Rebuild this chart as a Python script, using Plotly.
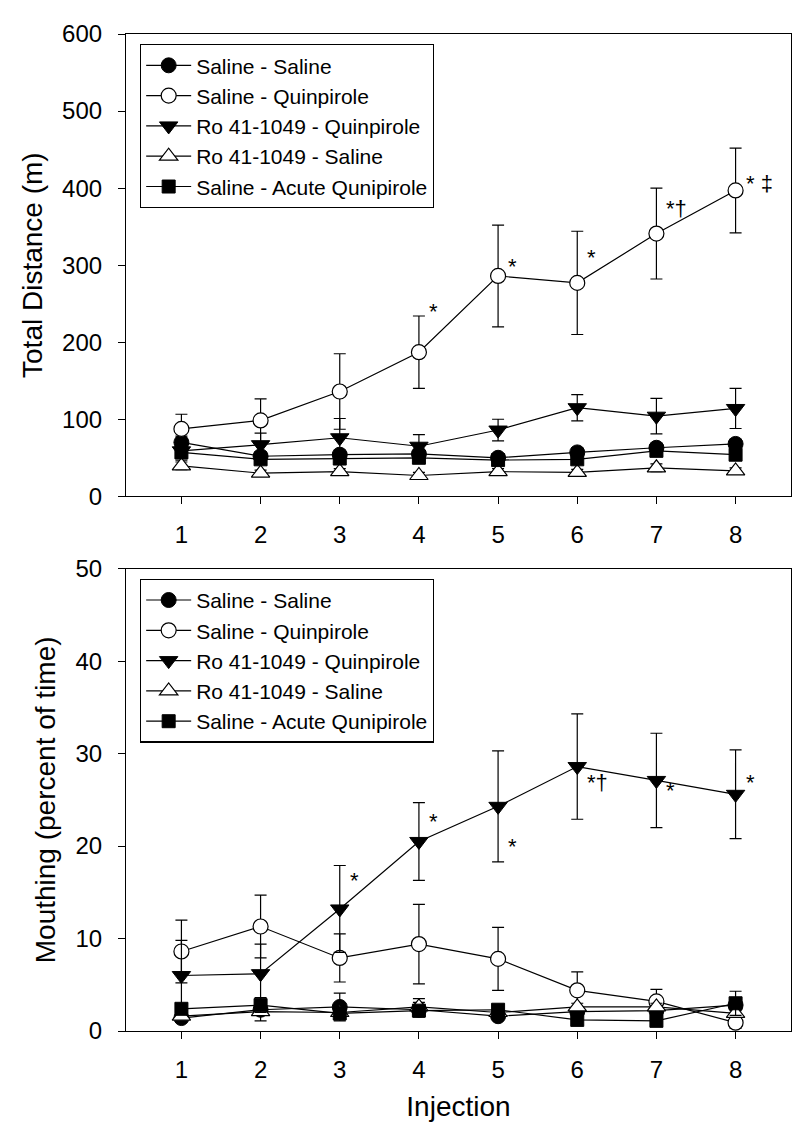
import plotly.graph_objects as go

injection = [1, 2, 3, 4, 5, 6, 7, 8]
x_ticks = ["1", "2", "3", "4", "5", "6", "7", "8"]

names = ["Saline - Saline", "Saline - Quinpirole", "Ro 41-1049 - Quinpirole",
         "Ro 41-1049 - Saline", "Saline - Acute Qunipirole"]

# Total distance (m)
dist_ss = [70, 52, 54, 55, 50, 57, 63, 68]
dist_ss_err = [8, 6, 6, 6, 5, 6, 6, 6]
dist_sq = [87.5, 98.5, 136, 187, 286, 277, 341, 397]
dist_sq_err = [19, 28, 49, 47, 66, 67, 59, 55]
dist_rq = [59, 67, 76, 65, 86, 115, 104, 114]
dist_rq_err = [12, 15, 25, 15, 14, 17, 23, 26]
dist_rs = [39.5, 30, 32, 27, 32, 31, 37, 33]
dist_rs_err = [5, 4, 4, 4, 4, 4, 5, 4]
dist_aq = [57, 48, 49, 50, 47, 48, 59, 54]
dist_aq_err = [6, 5, 5, 5, 5, 5, 6, 6]

# Mouthing (percent of time)
mouth_ss = [1.4, 2.3, 2.6, 2.3, 1.6, 2.1, 2.2, 2.8]
mouth_ss_err = [0.4, 0.6, 1.5, 0.8, 0.4, 0.5, 0.5, 0.6]
mouth_sq = [8.6, 11.3, 7.9, 9.4, 7.8, 4.4, 3.2, 0.9]
mouth_sq_err = [3.4, 3.4, 2.6, 4.3, 3.4, 2.0, 1.3, 0.6]
mouth_rq = [6.0, 6.2, 13.2, 20.5, 24.3, 28.6, 27.1, 25.6]
mouth_rq_err = [3.8, 3.2, 4.7, 4.2, 6.0, 5.7, 5.1, 4.8]
mouth_rs = [1.6, 2.1, 2.0, 2.6, 2.0, 2.6, 2.6, 1.9]
mouth_rs_err = [0.4, 1.0, 0.5, 0.9, 0.4, 0.4, 0.4, 0.4]
mouth_aq = [2.4, 2.8, 1.9, 2.2, 2.3, 1.2, 1.1, 3.0]
mouth_aq_err = [0.5, 0.8, 0.7, 0.4, 0.4, 0.5, 0.6, 1.3]

# significance marks
dist_sig_x = [4, 5, 6, 7, 8]
dist_sig_y = [246, 305, 317, 380, 413]
dist_sig_text = ["*", "*", "*", "*†", "* ‡"]
mouth_sig_x = [3, 4, 5, 6, 7, 8]
mouth_sig_y = [16.8, 23.2, 20.5, 27.4, 26.6, 27.4]
mouth_sig_text = ["*", "*", "*", "*†", "*", "*"]

FONT = "Arial, Liberation Sans, sans-serif"
styles = [
    dict(symbol="circle", size=15, color="black", line=dict(color="black", width=1)),
    dict(symbol="circle", size=15, color="white", line=dict(color="black", width=1.2)),
    dict(symbol="triangle-down", size=16, color="black", line=dict(color="black", width=1)),
    dict(symbol="triangle-up", size=16, color="white", line=dict(color="black", width=1.2)),
    dict(symbol="square", size=13, color="black", line=dict(color="black", width=1)),
]

fig = go.Figure()

dist_series = [(dist_ss, dist_ss_err), (dist_sq, dist_sq_err), (dist_rq, dist_rq_err),
               (dist_rs, dist_rs_err), (dist_aq, dist_aq_err)]
mouth_series = [(mouth_ss, mouth_ss_err), (mouth_sq, mouth_sq_err), (mouth_rq, mouth_rq_err),
                (mouth_rs, mouth_rs_err), (mouth_aq, mouth_aq_err)]

for i, (vals, errs) in enumerate(dist_series):
    fig.add_trace(go.Scatter(
        x=injection, y=vals, name=names[i], mode="lines+markers",
        line=dict(color="black", width=1.2), marker=styles[i],
        error_y=dict(type="data", array=errs, visible=True, color="black", thickness=1.2, width=6),
        xaxis="x", yaxis="y", legend="legend"))

for i, (vals, errs) in enumerate(mouth_series):
    fig.add_trace(go.Scatter(
        x=injection, y=vals, name=names[i], mode="lines+markers",
        line=dict(color="black", width=1.2), marker=styles[i],
        error_y=dict(type="data", array=errs, visible=True, color="black", thickness=1.2, width=6),
        xaxis="x2", yaxis="y2", legend="legend2"))

annotations = []
for xv, yv, t in zip(dist_sig_x, dist_sig_y, dist_sig_text):
    annotations.append(dict(x=xv + 0.1, y=yv, xref="x", yref="y", text=t, showarrow=False,
                            xanchor="left", yanchor="middle", yshift=-5,
                            font=dict(family=FONT, size=22, color="black")))
for xv, yv, t in zip(mouth_sig_x, mouth_sig_y, mouth_sig_text):
    annotations.append(dict(x=xv + 0.1, y=yv, xref="x2", yref="y2", text=t, showarrow=False,
                            xanchor="left", yanchor="middle", yshift=-5,
                            font=dict(family=FONT, size=22, color="black")))

axis_common = dict(showline=True, linecolor="black", linewidth=1.2, mirror=True,
                   ticks="outside", ticklen=7, tickwidth=1.2, tickcolor="black",
                   showgrid=False, zeroline=False,
                   tickfont=dict(family=FONT, size=24, color="black"))

legend_common = dict(bgcolor="white", bordercolor="black", borderwidth=1.2,
                     font=dict(family=FONT, size=21, color="black"),
                     xanchor="left", yanchor="top", tracegroupgap=0, itemsizing="trace",
                     itemwidth=45, entrywidth=290, entrywidthmode="pixels")

TITLE_FONT = dict(family=FONT, size=28, color="black")

fig.update_layout(
    width=800, height=1129,
    margin=dict(l=118, r=17, t=18, b=106),
    paper_bgcolor="white", plot_bgcolor="white",
    font=dict(family=FONT, color="black"),
    showlegend=True,
    xaxis=dict(domain=[0, 1], anchor="y", range=[0.3, 8.7], tickvals=injection, ticktext=x_ticks,
               ticklabelstandoff=10, **axis_common),
    yaxis=dict(domain=[0.5363, 1], anchor="x", range=[0, 600], tickvals=[0, 100, 200, 300, 400, 500, 600],
               ticklabelstandoff=11,
               title=dict(text="Total Distance (m)", font=TITLE_FONT, standoff=11),
               **axis_common),
    xaxis2=dict(domain=[0, 1], anchor="y2", range=[0.3, 8.7], tickvals=injection, ticktext=x_ticks,
                ticklabelstandoff=10,
                title=dict(text="Injection", font=TITLE_FONT, standoff=14),
                **axis_common),
    yaxis2=dict(domain=[0, 0.4637], anchor="x2", range=[0, 50], tickvals=[0, 10, 20, 30, 40, 50],
                ticklabelstandoff=11,
                title=dict(text="Mouthing (percent of time)", font=TITLE_FONT, standoff=11),
                **axis_common),
    legend=dict(x=0.021, y=0.990, **legend_common),
    legend2=dict(x=0.021, y=0.4537, **legend_common),
    annotations=annotations,
)

fig.write_html("out.html")
